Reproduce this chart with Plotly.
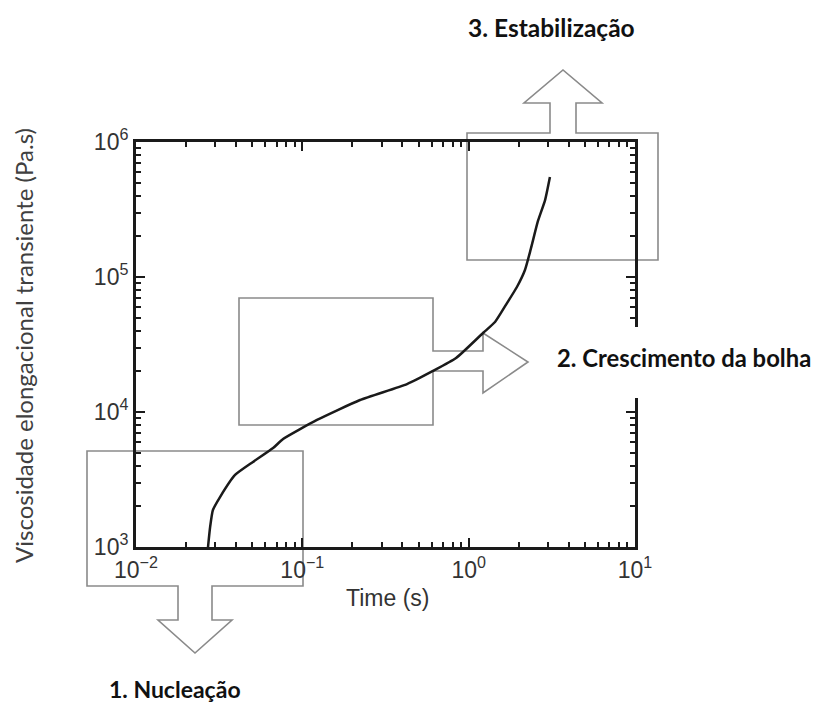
import plotly.graph_objects as go

# ---- data ----
time_s = [0.0271, 0.0279, 0.0290, 0.0320, 0.0394, 0.0505, 0.0667, 0.0766, 0.1225,
          0.2223, 0.4258, 0.6105, 0.84, 1.22, 1.44, 1.70, 1.95, 2.18,
          2.36, 2.61, 2.88, 3.08]
viscosity = [1000, 1406, 1879, 2344, 3415, 4266, 5405, 6310, 8730,
             12270, 16110, 20140, 25100, 38500, 46400, 64100, 84300, 112700,
             160000, 260000, 371500, 550600]

x_tickvals = [0.01, 0.1, 1, 10]
x_ticktext = ["10<sup>−2</sup>", "10<sup>−1</sup>", "10<sup>0</sup>", "10<sup>1</sup>"]
y_tickvals = [1e3, 1e4, 1e5, 1e6]
y_ticktext = ["10<sup>3</sup>", "10<sup>4</sup>", "10<sup>5</sup>", "10<sup>6</sup>"]
x_minor = [m * 10 ** e for e in (-2, -1, 0) for m in range(2, 10)]
y_minor = [m * 10 ** e for e in (3, 4, 5) for m in range(2, 10)]

stage_labels = ["1. Nucleação", "2. Crescimento da bolha", "3. Estabilização"]
x_title = "Time (s)"
y_title = "Viscosidade elongacional transiente (Pa.s)"

# ---- layout geometry (screen pixels; page body adds an 8px offset) ----
OFF = 8
W, H = 823 - OFF, 704 - OFF
L, R, T, B = 136, 635, 142, 547   # plot area on screen


def px(x):
    return (x - L) / (R - L)


def py(y):
    return (B - y) / (B - T)


def path(points):
    return "M " + " L ".join(f"{px(a):.5f},{py(b):.5f}" for a, b in points) + " Z"


nuc = [(87, 451), (303, 451), (303, 586), (212, 586), (212, 620), (232, 620), (195, 653),
       (158, 620), (178, 620), (178, 586), (87, 586)]
cres = [(239, 298), (433, 298), (433, 351), (483, 351), (483, 333), (528, 362), (483, 393),
        (483, 371), (433, 371), (433, 425), (239, 425)]
stab = [(467, 133), (550, 133), (550, 103), (524, 103), (563, 70), (602, 103), (576, 103),
        (576, 133), (658, 133), (658, 260), (467, 260)]

fig = go.Figure()
fig.add_trace(go.Scatter(x=time_s, y=viscosity, mode="lines",
                         line=dict(color="#1a1a1a", width=2.5, shape="spline", smoothing=0.5),
                         hoverinfo="skip", showlegend=False))

shapes = []
for pts in (nuc, cres, stab):
    shapes.append(dict(type="path", path=path(pts), xref="paper", yref="paper",
                       line=dict(color="#8a8a8a", width=1.6), fillcolor="rgba(0,0,0,0)",
                       layer="below"))
# white background behind label 2 (hides part of the right axis)
shapes.append(dict(type="rect", xref="paper", yref="paper", x0=px(540), x1=px(830),
                   y0=py(398), y1=py(327), fillcolor="white", line=dict(width=0),
                   layer="above"))

axis_common = dict(
    type="log", showgrid=False, zeroline=False,
    showline=True, linecolor="#1a1a1a", linewidth=3, mirror="ticks",
    ticks="inside", ticklen=9, tickwidth=2, tickcolor="#1a1a1a",
    tickfont=dict(family="Liberation Sans, Arial", size=23, color="#333333"),
    tickmode="array",
)


def lab(size):
    return dict(family="Lato", size=size, color="#111111", weight="bold")


fig.update_layout(
    width=W, height=H,
    margin=dict(l=L - OFF, r=W - (R - OFF), t=T - OFF, b=H - (B - OFF), pad=0),
    paper_bgcolor="white", plot_bgcolor="rgba(0,0,0,0)",
    xaxis=dict(axis_common, range=[-2, 1], tickvals=x_tickvals, ticktext=x_ticktext,
               minor=dict(tickvals=x_minor, ticks="inside", ticklen=5, tickwidth=2,
                          tickcolor="#1a1a1a", showgrid=False)),
    yaxis=dict(axis_common, range=[3, 6], tickvals=y_tickvals, ticktext=y_ticktext,
               minor=dict(tickvals=y_minor, ticks="inside", ticklen=5, tickwidth=2,
                          tickcolor="#1a1a1a", showgrid=False)),
    shapes=shapes,
    annotations=[
        dict(text=stage_labels[0], xref="paper", yref="paper", x=px(107), y=py(689),
             xanchor="left", yanchor="middle", showarrow=False, font=lab(23)),
        dict(text=stage_labels[1], xref="paper", yref="paper", x=px(555), y=py(358),
             xanchor="left", yanchor="middle", showarrow=False, font=lab(23.8)),
        dict(text=stage_labels[2], xref="paper", yref="paper", x=px(551), y=py(27),
             xanchor="center", yanchor="middle", showarrow=False, font=lab(24.5)),
        dict(text=x_title, xref="paper", yref="paper", x=px(387), y=py(598),
             xanchor="center", yanchor="middle", showarrow=False,
             font=dict(family="Liberation Sans, Arial", size=23, color="#333333")),
        dict(text=y_title, xref="paper", yref="paper", x=px(23), y=py(346),
             xanchor="center", yanchor="middle", showarrow=False, textangle=-90,
             font=dict(family="Lato", size=24, color="#404040")),
    ],
)

fig.write_html("out.html")
